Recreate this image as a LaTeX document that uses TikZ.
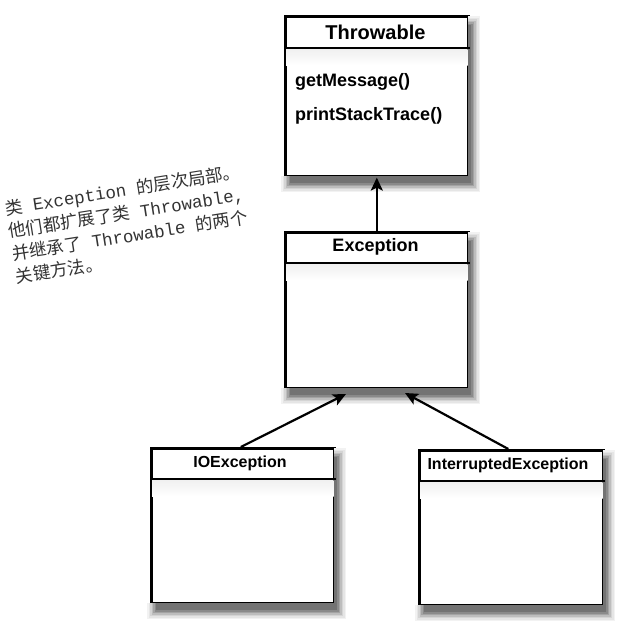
\documentclass[tikz,border=0pt]{standalone}
\usepackage{fontspec}
\setmainfont{Liberation Sans}
\setmonofont{Liberation Mono}
\newfontfamily\cjk{Noto Sans CJK SC}
\usetikzlibrary{arrows.meta}
\begin{document}
\begin{tikzpicture}[x=1pt,y=-1pt,
  cls/.style={draw=black, line width=2.6pt, fill=white, inner sep=0pt, anchor=north west},
  sep/.style={line width=2.4pt},
  ttl/.style={font=\fontsize{20}{22}\selectfont\bfseries},
  ttlm/.style={font=\fontsize{18}{20}\selectfont\bfseries},
  ttls/.style={font=\fontsize{16}{18}\selectfont\bfseries},
  meth/.style={font=\fontsize{18}{20}\selectfont\bfseries, anchor=west, inner sep=0pt},
  conn/.style={line width=2.2pt, -{Stealth[length=13pt,width=12pt,inset=3pt]}},
  note/.style={font=\fontsize{17.5}{23}\selectfont, text=black!80, align=left, rotate=9, inner sep=0pt}
]
\useasboundingbox (0,0) rectangle (620,624);

% boxes
\node[cls, minimum width=183pt, minimum height=160pt] (thr) at (284,15) {};
\node[cls, minimum width=183pt, minimum height=156pt] (exc) at (284,231) {};
\node[cls, minimum width=183pt, minimum height=155pt] (ioe) at (150,447) {};
\node[cls, minimum width=184pt, minimum height=155pt] (ine) at (418,449) {};

% soft shadows: strips outside the right and bottom edges only
\foreach \xa/\ya/\xb/\yb in {284/15/467/175, 284/231/467/387, 150/447/333/602, 418/449/602/604}{
  \foreach \e/\g in {8/5,6.5/10,5/17,3.5/26,2/36,0.5/46,-1/55}{
    \fill[black!\g] (\xb+1.3, \ya+9-\e) rectangle (\xb+5+\e, \yb+9+\e);
    \fill[black!\g] (\xa+5-\e, \yb+1.3) rectangle (\xb+1.3, \yb+9+\e);
  }
}

% inner gradients below separators
\shade[top color=black!6, bottom color=white] ([xshift=2pt,yshift=-34pt]thr.north west) rectangle ([xshift=-2pt,yshift=-50pt]thr.north east);
\shade[top color=black!6, bottom color=white] ([xshift=2pt,yshift=-33pt]exc.north west) rectangle ([xshift=-2pt,yshift=-49pt]exc.north east);
\shade[top color=black!6, bottom color=white] ([xshift=2pt,yshift=-33pt]ioe.north west) rectangle ([xshift=-2pt,yshift=-49pt]ioe.north east);
\shade[top color=black!6, bottom color=white] ([xshift=2pt,yshift=-33pt]ine.north west) rectangle ([xshift=-2pt,yshift=-49pt]ine.north east);

% separators
\draw[sep] ([yshift=-33pt]thr.north west) -- ([yshift=-33pt]thr.north east);
\draw[sep] ([yshift=-32pt]exc.north west) -- ([yshift=-32pt]exc.north east);
\draw[sep] ([yshift=-32pt]ioe.north west) -- ([yshift=-32pt]ioe.north east);
\draw[sep] ([yshift=-32pt]ine.north west) -- ([yshift=-32pt]ine.north east);

% titles
\node[ttl] (thrt) at (375.5,32) {Throwable};
\node[ttlm] (exct) at (375.5,247) {Exception};
\node[ttls] (ioet) at (240,463) {IOException};
\node[ttls] (inet) at (508,465) {InterruptedException};

% methods
\node[meth] (m1) at (295,82) {getMessage()};
\node[meth] (m2) at (295,116) {printStackTrace()};

% connectors
\draw[conn] (exc.north) -- (thr.south);
\coordinate (a1) at (346,394);
\coordinate (a2) at (405,393);
\draw[conn] ([xshift=-2pt]ioe.north) -- (a1);
\draw[conn] ([xshift=-3pt]ine.north) -- (a2);

% note
\node[note] (nt) at (128,224) {%
{\cjk 类}\texttt{ Exception }{\cjk 的层次局部。}\\
{\cjk 他们都扩展了类}\texttt{ Throwable,}\\
{\cjk 并继承了}\texttt{ Throwable }{\cjk 的两个}\\
{\cjk 关键方法。}};
\end{tikzpicture}
\end{document}
